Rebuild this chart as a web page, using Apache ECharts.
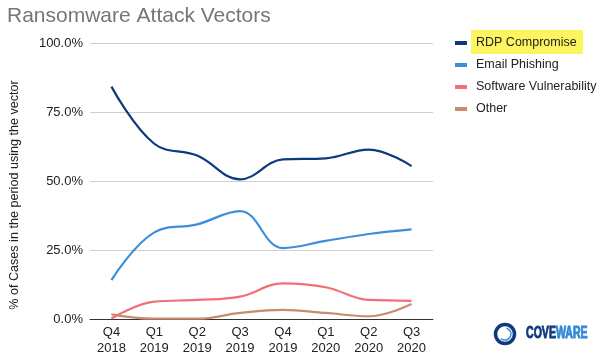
<!DOCTYPE html>
<html><head><meta charset="utf-8">
<script src="https://cdn.jsdelivr.net/npm/echarts@6/dist/echarts.min.js"></script>
<style>html,body{margin:0;padding:0;background:#fff}#c{width:600px;height:356px}</style>
</head><body><div id="c"></div>
<script>
const categories = ['Q4\n2018','Q1\n2019','Q2\n2019','Q3\n2019','Q4\n2019','Q1\n2020','Q2\n2020','Q3\n2020'];
const rdp = [84.2, 63.5, 59.2, 50.6, 57.8, 58.2, 61.4, 55.4];
const email = [14.1, 31.4, 34.3, 39.1, 25.7, 28.3, 30.8, 32.5];
const software = [0.2, 6.3, 6.9, 8.1, 12.9, 11.5, 6.9, 6.6];
const other = [1.7, 0.1, 0.1, 2.2, 3.3, 2.2, 1.0, 5.4];
const yTicks = [0, 25, 50, 75, 100];

const FONT = 'Liberation Sans, Arial, sans-serif';
const colors = ['#0d3a7d', '#3d8fdb', '#f07075', '#c98b70'];
const chart = echarts.init(document.getElementById('c'), null, {renderer:'canvas'});
const mk = (name, data, i) => ({
  name, type:'line', data, smooth:0.4, symbol:'none',
  lineStyle:{width:2.2, color:colors[i]}, itemStyle:{color:colors[i]}, z: 10-i
});
chart.setOption({
  animation:false,
  title:{text:'Ransomware Attack Vectors', left:2, top:1,
    textStyle:{fontFamily:FONT, fontSize:21, fontWeight:'normal', color:'#767676'}},
  grid:{left:90, right:167, top:43, bottom:37},
  legend:{orient:'vertical', left:455, top:36, padding:0, itemWidth:12, itemHeight:4, itemGap:8,
    icon:'rect',
    textStyle:{fontFamily:FONT, fontSize:12.5, lineHeight:14, color:'#222', padding:[0,0,0,4]},
    data:['RDP Compromise','Email Phishing','Software Vulnerability','Other']},
  xAxis:{type:'category', data:categories, boundaryGap:true,
    axisLine:{show:true, lineStyle:{color:'#333', width:1}}, axisTick:{show:false},
    axisLabel:{fontFamily:FONT, fontSize:13, color:'#222', lineHeight:16, margin:5, interval:0}},
  yAxis:{type:'value', min:0, max:100, interval:25,
    axisLine:{show:false}, axisTick:{show:false},
    axisLabel:{fontFamily:FONT, fontSize:13, color:'#222', margin:7,
      formatter: v => yTicks.includes(v) ? v.toFixed(1) + '%' : ''},
    splitLine:{lineStyle:{color:'#d0d0d0', width:1}}},
  series:[mk('RDP Compromise', rdp, 0), mk('Email Phishing', email, 1), mk('Software Vulnerability', software, 2), mk('Other', other, 3)],
  graphic:[
    {type:'rect', shape:{x:471, y:30, width:112, height:24}, style:{fill:'#fdf560'}, z:1},
    {type:'text', x:15, y:195, rotation:Math.PI/2, z:5,
      style:{text:'% of Cases in the period using the vector', fontFamily:FONT, fontSize:12.6, fill:'#222', align:'center', verticalAlign:'middle'}},
    {type:'circle', shape:{cx:505, cy:334, r:9.5}, style:{fill:'none', stroke:'#0d3a7d', lineWidth:3.5}},
    {type:'arc', shape:{cx:505, cy:334, r:6, startAngle:-1.3, endAngle:2.3}, style:{fill:'none', stroke:'#3d8fdb', lineWidth:1.5}},
    {type:'text', x:526, y:334, scaleX:0.66,
      style:{text:'{a|COVE}{b|WARE}', verticalAlign:'middle',
      rich:{a:{fill:'#0d3a7d', stroke:'#0d3a7d', lineWidth:0.9, fontSize:16, fontWeight:'bold', fontFamily:FONT},
            b:{fill:'#2f86d6', stroke:'#2f86d6', lineWidth:0.9, fontSize:16, fontWeight:'bold', fontFamily:FONT}}}}
  ]
});
</script></body></html>
